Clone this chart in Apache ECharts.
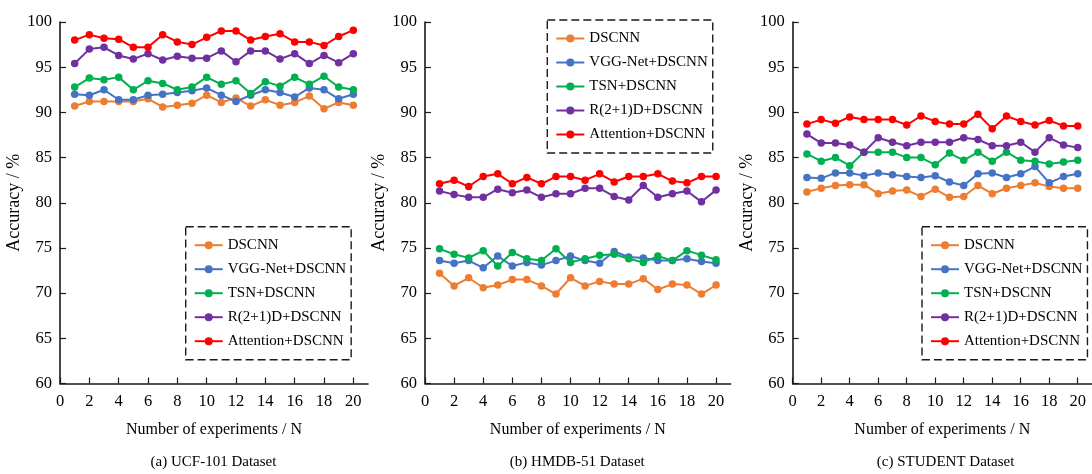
<!DOCTYPE html>
<html>
<head>
<meta charset="utf-8">
<script src="https://cdn.jsdelivr.net/npm/echarts@6/dist/echarts.min.js"></script>
<style>
  html, body { margin: 0; padding: 0; background: #fff; }
  #chart { width: 1092px; height: 474px; }
</style>
</head>
<body>
<div id="chart"></div>
<script>
// 横轴：实验次数
const runs = [1, 2, 3, 4, 5, 6, 7, 8, 9, 10, 11, 12, 13, 14, 15, 16, 17, 18, 19, 20]
const xTicks = [0, 2, 4, 6, 8, 10, 12, 14, 16, 18, 20]
const seriesNames = ['DSCNN', 'VGG-Net+DSCNN', 'TSN+DSCNN', 'R(2+1)D+DSCNN', 'Attention+DSCNN']
const colors = ['#ED7D31', '#4472C4', '#00B050', '#7030A0', '#FF0000']
const panelTitles = ['(a) UCF-101 Dataset', '(b) HMDB-51 Dataset', '(c) STUDENT Dataset']

// (a) UCF-101
const ucfDscnn = [90.7, 91.2, 91.2, 91.2, 91.2, 91.5, 90.6, 90.8, 91.0, 91.9, 91.1, 91.6, 90.7, 91.4, 90.8, 91.1, 91.8, 90.4, 91.1, 90.8]
const ucfVgg = [92.0, 91.9, 92.5, 91.4, 91.4, 91.9, 92.0, 92.2, 92.4, 92.7, 91.9, 91.2, 91.9, 92.5, 92.2, 91.7, 92.7, 92.5, 91.5, 92.0]
const ucfTsn = [92.8, 93.8, 93.6, 93.9, 92.5, 93.5, 93.2, 92.5, 92.8, 93.9, 93.1, 93.5, 92.1, 93.4, 92.9, 93.9, 93.1, 94.0, 92.8, 92.5]
const ucfR21d = [95.4, 97.0, 97.2, 96.3, 95.9, 96.5, 95.8, 96.2, 96.0, 96.0, 96.8, 95.6, 96.8, 96.8, 95.9, 96.5, 95.4, 96.3, 95.5, 96.5]
const ucfAtt = [98.0, 98.6, 98.2, 98.1, 97.2, 97.2, 98.6, 97.8, 97.5, 98.3, 99.0, 99.0, 98.0, 98.4, 98.7, 97.8, 97.8, 97.4, 98.4, 99.1]

// (b) HMDB-51
const hmdbDscnn = [72.2, 70.8, 71.7, 70.6, 70.9, 71.5, 71.5, 70.8, 69.9, 71.7, 70.8, 71.3, 71.0, 71.0, 71.6, 70.4, 71.0, 70.9, 69.9, 70.9]
const hmdbVgg = [73.6, 73.3, 73.6, 72.8, 74.1, 73.0, 73.4, 73.1, 73.6, 74.1, 73.6, 73.3, 74.6, 74.0, 73.9, 73.6, 73.6, 73.8, 73.5, 73.3]
const hmdbTsn = [74.9, 74.3, 73.9, 74.7, 73.0, 74.5, 73.8, 73.6, 74.9, 73.4, 73.8, 74.2, 74.3, 73.8, 73.4, 74.1, 73.6, 74.7, 74.2, 73.7]
const hmdbR21d = [81.3, 80.9, 80.6, 80.6, 81.5, 81.1, 81.4, 80.6, 81.0, 81.0, 81.6, 81.6, 80.7, 80.3, 81.9, 80.6, 81.0, 81.3, 80.1, 81.4]
const hmdbAtt = [82.1, 82.5, 81.8, 82.9, 83.2, 82.1, 82.8, 82.1, 82.9, 82.9, 82.5, 83.2, 82.3, 82.9, 82.9, 83.2, 82.4, 82.2, 82.9, 82.9]

// (c) STUDENT
const stuDscnn = [81.2, 81.6, 81.9, 82.0, 82.0, 81.0, 81.3, 81.4, 80.7, 81.5, 80.6, 80.7, 81.9, 81.0, 81.6, 81.9, 82.2, 81.8, 81.6, 81.6]
const stuVgg = [82.8, 82.7, 83.3, 83.3, 83.0, 83.3, 83.1, 82.9, 82.8, 83.0, 82.3, 81.9, 83.2, 83.3, 82.8, 83.2, 84.0, 82.2, 82.9, 83.2]
const stuTsn = [85.4, 84.6, 85.0, 84.1, 85.6, 85.6, 85.6, 85.0, 85.0, 84.2, 85.5, 84.7, 85.6, 84.6, 85.6, 84.7, 84.6, 84.3, 84.5, 84.7]
const stuR21d = [87.6, 86.6, 86.6, 86.4, 85.6, 87.2, 86.7, 86.3, 86.7, 86.7, 86.7, 87.2, 87.0, 86.3, 86.3, 86.7, 85.6, 87.2, 86.4, 86.1]
const stuAtt = [88.7, 89.2, 88.8, 89.5, 89.2, 89.2, 89.2, 88.6, 89.6, 89.0, 88.7, 88.7, 89.8, 88.2, 89.6, 89.0, 88.6, 89.1, 88.5, 88.5]

const panelData = [
  [ucfDscnn, ucfVgg, ucfTsn, ucfR21d, ucfAtt],
  [hmdbDscnn, hmdbVgg, hmdbTsn, hmdbR21d, hmdbAtt],
  [stuDscnn, stuVgg, stuTsn, stuR21d, stuAtt]
]

// 三个子图的位置
const panels = [
  { left: 60, width: 308, legendLeft: 185.7, legendTop: 226.7 },
  { left: 425, width: 305.6, legendLeft: 547.3, legendTop: 20 },
  { left: 792.7, width: 306.8, legendLeft: 922, legendTop: 226.7 }
]

const font = 'Liberation Serif'
const textColor = '#000'
const axisColor = '#1a1a1a'

let myChart = echarts.init(document.getElementById('chart'))

let grid = []
let xAxis = []
let yAxis = []
let legend = []
let title = []
let series = []

panels.forEach((p, pi) => {
  grid.push({ left: p.left, top: 22, width: p.width, height: 361.5 })
  xAxis.push({
    type: 'value',
    gridIndex: pi,
    min: 0,
    max: 21,
    name: 'Number of experiments / N',
    nameLocation: 'middle',
    nameGap: 38,
    nameTextStyle: { fontFamily: font, fontSize: 16, color: textColor },
    axisLine: { show: true, lineStyle: { color: axisColor, width: 1.6 } },
    axisTick: { show: true, inside: true, length: 6, customValues: xTicks, lineStyle: { color: axisColor, width: 1.2 } },
    axisLabel: { customValues: xTicks, margin: 10, fontFamily: font, fontSize: 16.5, color: textColor },
    splitLine: { show: false }
  })
  yAxis.push({
    type: 'value',
    gridIndex: pi,
    min: 60,
    max: 100,
    interval: 5,
    name: 'Accuracy / %',
    nameLocation: 'middle',
    nameGap: 36,
    nameTextStyle: { fontFamily: font, fontSize: 18, color: textColor },
    axisLine: { show: true, lineStyle: { color: axisColor, width: 1.6 } },
    axisTick: { show: true, inside: true, length: 6, lineStyle: { color: axisColor, width: 1.2 } },
    axisLabel: { margin: 8, fontFamily: font, fontSize: 16.5, color: textColor },
    splitLine: { show: false }
  })
  legend.push({
    orient: 'vertical',
    left: p.legendLeft,
    top: p.legendTop,
    padding: [11, 5, 11, 8],
    itemWidth: 28,
    itemHeight: 10,
    itemGap: 9,
    borderColor: '#1a1a1a',
    borderWidth: 1.4,
    borderType: [8, 4],
    data: seriesNames,
    textStyle: { fontFamily: font, fontSize: 15, color: textColor }
  })
  title.push({
    text: panelTitles[pi],
    left: p.left + p.width / 2 - 0.5,
    top: 455,
    padding: 0,
    textAlign: 'center',
    textStyle: { fontFamily: font, fontSize: 15, fontWeight: 'normal', color: textColor }
  })
  panelData[pi].forEach((vals, si) => {
    series.push({
      name: seriesNames[si],
      type: 'line',
      xAxisIndex: pi,
      yAxisIndex: pi,
      symbol: 'circle',
      symbolSize: 7.5,
      lineStyle: { width: 2, color: colors[si] },
      itemStyle: { color: colors[si] },
      data: runs.map((r, k) => [r, vals[k]])
    })
  })
})

let option = {
  animation: false,
  backgroundColor: '#fff',
  title,
  grid,
  xAxis,
  yAxis,
  legend,
  series
}
option && myChart.setOption(option)
</script>
</body>
</html>
